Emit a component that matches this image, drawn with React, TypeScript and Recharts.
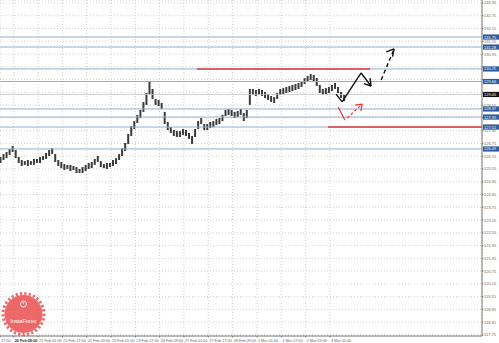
import { ComposedChart, Bar, XAxis, YAxis, CartesianGrid, ReferenceLine } from "recharts";

// each listed bar stands for two hourly candles
const HOUR_STEP = 2;

const HIGHS = [
  126.11, 126.25, 126.35, 126.49, 126.63, 126.44, 126.11, 125.97, 125.92, 125.97,
  125.92, 126.02, 126.02, 126.11, 126.16, 126.3, 126.44, 126.53, 126.25, 125.97,
  125.88, 125.78, 125.74, 125.74, 125.69, 125.64, 125.55, 125.64, 125.74, 125.83,
  125.88, 126.02, 126.16, 125.92, 125.78, 125.83, 125.83, 125.97, 126.06, 126.25,
  126.53, 126.77, 127.19, 127.57, 127.8, 128.09, 128.32, 128.7, 129.12, 129.66,
  129.31, 128.84, 128.79, 128.65, 128.23, 127.76, 127.52, 127.38, 127.33, 127.33,
  127.43, 127.38, 127.24, 127.1, 127.43, 127.8, 127.94, 127.66, 127.66, 127.76,
  127.8, 127.9, 127.94, 128.09, 128.32, 128.37, 128.32, 128.23, 128.27, 128.37,
  128.18, 128.32, 129.31, 129.31, 129.26, 129.31, 129.26, 129.17, 129.07, 128.98,
  128.93, 129.12, 129.31, 129.35, 129.4, 129.45, 129.5, 129.54, 129.59, 129.68,
  129.82, 129.92, 130.01, 129.97, 129.82, 129.5, 129.31, 129.35, 129.4, 129.5,
  129.59, 129.4, 129.17, 129.03,
];

const LOWS = [
  125.83, 125.97, 126.06, 126.21, 126.35, 126.06, 125.83, 125.69, 125.74, 125.69,
  125.74, 125.74, 125.83, 125.83, 125.97, 126.02, 126.16, 126.25, 125.88, 125.69,
  125.59, 125.5, 125.55, 125.45, 125.5, 125.36, 125.36, 125.36, 125.45, 125.55,
  125.59, 125.74, 125.88, 125.64, 125.59, 125.55, 125.64, 125.69, 125.78, 125.97,
  126.16, 126.39, 126.72, 127.1, 127.43, 127.71, 127.94, 128.23, 128.56, 129.05,
  128.84, 128.56, 128.51, 128.37, 127.66, 127.38, 127.24, 127.1, 127.05, 127.05,
  127.15, 127.1, 126.96, 126.72, 127.05, 127.43, 127.66, 127.38, 127.38, 127.47,
  127.52, 127.62, 127.66, 127.8, 128.04, 128.09, 128.04, 127.94, 127.99, 128.09,
  127.8, 127.94, 128.56, 129.03, 128.98, 129.03, 128.98, 128.88, 128.79, 128.7,
  128.65, 128.84, 129.03, 129.07, 129.12, 129.17, 129.21, 129.26, 129.31, 129.4,
  129.54, 129.64, 129.73, 129.68, 129.45, 129.12, 129.03, 129.07, 129.12, 129.21,
  129.31, 129.12, 128.88, 128.74,
];

const Y_TICKS = [
  117.75, 118.35, 118.95, 119.55, 120.15, 120.75, 121.35, 121.95, 122.55, 123.15,
  123.75, 124.35, 124.95, 125.55, 126.15, 126.75, 127.35, 127.95, 128.55, 129.15,
  129.75, 130.35, 130.95, 131.55, 132.15, 132.75, 133.35,
];

const TIME_TICKS = [0, 9, 25, 41, 57, 73, 89, 105, 121, 137, 153, 169, 185, 201, 217];
const TIME_LABELS = [
  "17:00", "20 Feb 09:00", "21 Feb 01:00", "21 Feb 17:00", "22 Feb 09:00",
  "23 Feb 01:00", "23 Feb 17:00", "24 Feb 09:00", "27 Feb 01:00", "27 Feb 17:00",
  "28 Feb 09:00", "1 Mar 01:00", "1 Mar 17:00", "2 Mar 09:00", "3 Mar 01:00",
];

const LEVELS = [131.75, 131.28, 130.25, 129.66, 128.37, 127.99, 127.52, 126.49];
const BID = 129.05;

// red zones: [price, from hour, to hour]
const RESISTANCE = [130.25, 129.6, 243.4];
const SUPPORT = [127.52, 215.8, 317];

// hand drawn forecast arrows, [hour, price]
const MAIN_PATH = [[221, 129.07], [225, 128.7], [237.5, 130.06], [244, 129.45]];
const MAIN_HEAD = [[239.3, 129.56], [244, 129.45], [243.4, 129.82]];
const TARGET_PATH = [[250.7, 129.73], [259.2, 131.19]];
const TARGET_HEAD = [[254, 131.05], [259.2, 131.19], [258.2, 130.83]];
const ALT_PATH = [[222.4, 128.46], [226.8, 127.85]];
const ALT_DASH = [[228.3, 127.94], [238.2, 128.6]];
const ALT_HEAD = [[233.6, 128.55], [238.2, 128.6], [237.3, 128.27]];

const chartData = HIGHS.map((h, i) => ({ hour: i * HOUR_STEP, range: [LOWS[i], h] }));

const FONT = "'Liberation Sans', Arial, sans-serif";
const TAGGED = [...LEVELS, BID];

function segments(points: number[][], stroke: string, width: number, dash?: string, key = "") {
  return points.slice(1).map((p, i) => (
    <ReferenceLine
      key={`${key}${i}`}
      segment={[
        { x: points[i][0], y: points[i][1] },
        { x: p[0], y: p[1] },
      ]}
      stroke={stroke}
      strokeWidth={width}
      strokeDasharray={dash}
      ifOverflow="visible"
    />
  ));
}

function PriceTag({ viewBox, value, fill }: any) {
  if (!viewBox) return null;
  const x = viewBox.x + viewBox.width + 1;
  return (
    <g>
      <rect x={x} y={viewBox.y - 2.6} width={16} height={5.2} fill={fill} />
      <text x={x + 1} y={viewBox.y + 1.5} fontSize={4} fill="#fff" fontFamily={FONT}>
        {value.toFixed(2)}
      </text>
    </g>
  );
}

function YTick({ x, y, payload }: any) {
  // tags hide the scale label behind them, as the terminal does
  if (TAGGED.some((t) => Math.abs(t - payload.value) < 0.16)) return null;
  return (
    <text x={x} y={y + 1.5} fontSize={4} fill="#666" fontFamily={FONT}>
      {payload.value.toFixed(2)}
    </text>
  );
}

function XTick({ x, y, payload, index }: any) {
  return (
    <text
      x={x + 1}
      y={y + 4}
      fontSize={3.8}
      fill={index === 1 ? "#222" : "#666"}
      fontWeight={index === 1 ? "bold" : "normal"}
      fontFamily={FONT}
    >
      {TIME_LABELS[TIME_TICKS.indexOf(payload.value)]}
    </text>
  );
}

function Logo() {
  return (
    <svg width={50} height={50} style={{ position: "absolute", left: 0, top: 290 }}>
      <g opacity={0.85}>
        <circle cx={23.5} cy={24} r={19} fill="#ea4f4f" />
        <circle cx={23.5} cy={24} r={20.5} fill="none" stroke="#ea4f4f" strokeWidth={3} strokeDasharray="2.2 2.2" />
      </g>
      <circle cx={23.5} cy={14} r={3} fill="none" stroke="#fff" strokeWidth={0.8} />
      <circle cx={23.5} cy={13} r={0.8} fill="#fff" />
      <text x={23.5} y={33} textAnchor="middle" fontSize={5.5} fill="#fff" fontFamily={FONT}>
        InstaForex
      </text>
    </svg>
  );
}

export default function App() {
  return (
    <div style={{ position: "absolute", left: 0, top: 0, width: 499, height: 343, background: "#fff" }}>
      <ComposedChart
        width={499}
        height={343}
        data={chartData}
        margin={{ top: 0, right: 0, bottom: 0, left: 0 }}
      >
        <CartesianGrid stroke="#cfcfcf" strokeDasharray="1 2" />
        <XAxis
          type="number"
          dataKey="hour"
          domain={[0, 317]}
          ticks={TIME_TICKS}
          allowDataOverflow
          height={7}
          tickSize={1.5}
          tickMargin={0}
          stroke="#777"
          tick={<XTick />}
          interval={0}
        />
        <YAxis
          orientation="right"
          domain={[117.7, 133.49]}
          ticks={Y_TICKS}
          allowDataOverflow
          width={17}
          tickSize={1.5}
          tickMargin={0.5}
          stroke="#777"
          tick={<YTick />}
          interval={0}
        />
        <ReferenceLine y={BID} stroke="#c4c4c4" strokeWidth={0.8} label={(p: any) => <PriceTag viewBox={p.viewBox} value={BID} fill="#111" />} />
        {LEVELS.map((lv) => (
          <ReferenceLine
            key={lv}
            y={lv}
            stroke="#93aecb"
            strokeWidth={1}
            label={(p: any) => <PriceTag viewBox={p.viewBox} value={lv} fill="#2d5a98" />}
          />
        ))}
        <ReferenceLine
          segment={[{ x: RESISTANCE[1], y: RESISTANCE[0] }, { x: RESISTANCE[2], y: RESISTANCE[0] }]}
          stroke="#e03a3a"
          strokeWidth={1.6}
        />
        <ReferenceLine
          segment={[{ x: SUPPORT[1], y: SUPPORT[0] }, { x: SUPPORT[2], y: SUPPORT[0] }]}
          stroke="#e03a3a"
          strokeWidth={1.6}
        />
        <Bar dataKey="range" barSize={2} fill="#3a3a3a" isAnimationActive={false} />
        {segments(MAIN_PATH, "#111", 1.4, undefined, "m")}
        {segments(MAIN_HEAD, "#111", 1.4, undefined, "mh")}
        {segments(TARGET_PATH, "#111", 1.4, "4 3", "t")}
        {segments(TARGET_HEAD, "#111", 1.4, undefined, "th")}
        {segments(ALT_PATH, "#e03a3a", 1.2, undefined, "a")}
        {segments(ALT_DASH, "#e03a3a", 1.2, "3 2", "ad")}
        {segments(ALT_HEAD, "#e03a3a", 1.2, undefined, "ah")}
      </ComposedChart>
      <Logo />
    </div>
  );
}
